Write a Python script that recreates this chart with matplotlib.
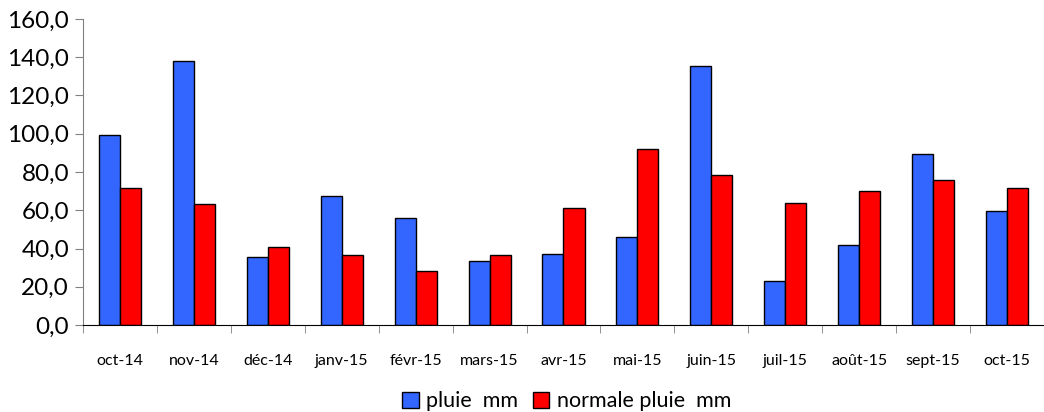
import numpy as np
import matplotlib
matplotlib.use("Agg")
import matplotlib.pyplot as plt

months = ["oct-14", "nov-14", "déc-14", "janv-15", "févr-15", "mars-15", "avr-15",
          "mai-15", "juin-15", "juil-15", "août-15", "sept-15", "oct-15"]
pluie = [99.5, 138.2, 35.7, 67.3, 56.1, 33.6, 37.0, 46.2, 135.6, 23.2, 42.0, 89.6, 59.6]
normale = [71.5, 63.1, 40.6, 36.4, 28.1, 36.4, 61.0, 92.0, 78.4, 63.8, 70.1, 75.6, 71.5]

plt.rcParams["font.family"] = ["Lato", "DejaVu Sans"]

fig = plt.figure(figsize=(10.44, 4.12), dpi=100)
ax = fig.add_axes([0.0795, 0.211, 0.9205, 0.743])

x = np.arange(len(months))
w = 0.285
ax.bar(x - w / 2, pluie, w, color="#3366FF", edgecolor="black", linewidth=1.0,
       label="pluie  mm")
ax.bar(x + w / 2, normale, w, color="#FF0000", edgecolor="black", linewidth=1.0,
       label="normale pluie  mm")

ax.set_ylim(0, 160)
ax.set_xlim(-0.5, 12.38)
ax.set_yticks(np.arange(0, 161, 20))
ax.set_yticklabels([f"{v:.1f}".replace(".", ",") for v in np.arange(0, 161, 20)],
                   fontsize=17.5)
ax.set_xticks(x)
ax.set_xticklabels(months, fontsize=11.5)
ax.set_xticks(np.arange(-0.5, 13, 1), minor=True)
ax.tick_params(axis="x", which="major", length=0, pad=21)
ax.tick_params(axis="x", which="minor", length=6, color="#808080")
ax.tick_params(axis="y", length=6, color="#808080", pad=4)

for s in ["top", "right"]:
    ax.spines[s].set_visible(False)
ax.spines["left"].set_color("#808080")
ax.spines["bottom"].set_color("black")

fig.legend(loc="center", bbox_to_anchor=(0.543, 0.026), ncol=2, frameon=False,
           fontsize=15.5, handlelength=0.75, handleheight=0.75, handletextpad=0.35,
           columnspacing=0.7)

fig.savefig("out.png", dpi=100)
